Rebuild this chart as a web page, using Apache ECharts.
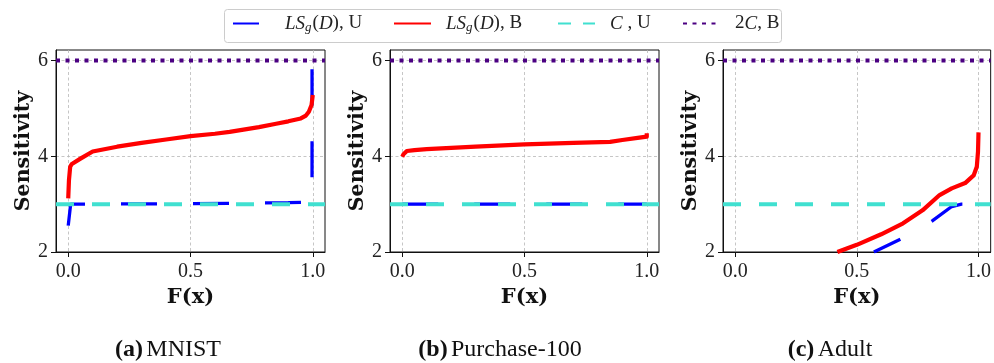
<!DOCTYPE html>
<html>
<head>
<meta charset="utf-8">
<script src="https://cdn.jsdelivr.net/npm/echarts@6/dist/echarts.min.js"></script>
<style>
  html, body { margin: 0; padding: 0; background: #fff; }
  #chart { width: 994px; height: 363px; }
</style>
</head>
<body>
<div id="chart"></div>
<script>
// Horizontal extent of every panel and the ticks shown on each axis
const xSpan = [-0.05, 1.05];
const xTicks = [0, 0.5, 1];
const yTicks = [2, 4, 6];
const yRange = [2, 6.22];

// Reference levels: C (unbounded) and 2C (bounded)
const cLevel = 3;
const twoCLevel = 6;

// Local sensitivity LS_g(D) against F(x): U = unbounded, B = bounded
const mnistU = [[0, 2.55], [0.01, 3.0], [0.02, 3.0], [0.5, 3.01], [0.9, 3.03], [0.997, 3.04], [0.997, 5.85]];
const mnistB = [[0, 3.12], [0.003, 3.5], [0.008, 3.78], [0.015, 3.84], [0.05, 3.95], [0.1, 4.1],
                [0.2, 4.2], [0.3, 4.28], [0.4, 4.35], [0.5, 4.42], [0.6, 4.47], [0.66, 4.51],
                [0.78, 4.61], [0.85, 4.68], [0.9, 4.73], [0.951, 4.79], [0.972, 4.85],
                [0.984, 4.93], [0.995, 5.07], [1.0, 5.28]];

const purchaseU = [[0, 3.0], [1.0, 3.0]];
const purchaseB = [[0, 3.99], [0.005, 4.04], [0.019, 4.11], [0.05, 4.13], [0.1, 4.15], [0.3, 4.2],
                   [0.5, 4.25], [0.7, 4.28], [0.85, 4.3], [0.9, 4.34], [0.97, 4.39], [1.0, 4.41],
                   [1.0, 4.48]];

const adultU = [[0.57, 2.0], [0.68, 2.27], [0.75, 2.45], [0.81, 2.65], [0.89, 2.95], [0.93, 3.0], [1.0, 3.0]];
const adultB = [[0.42, 2.0], [0.5, 2.15], [0.6, 2.37], [0.69, 2.6], [0.77, 2.87], [0.84, 3.19],
                [0.89, 3.33], [0.945, 3.44], [0.98, 3.6], [0.993, 3.78], [0.998, 4.1], [1.0, 4.5]];

const panels = [
  { caption: ['(a)', 'MNIST'], u: mnistU, b: mnistB, uOffset: 0 },
  { caption: ['(b)', 'Purchase-100'], u: purchaseU, b: purchaseB, uOffset: 0 },
  { caption: ['(c)', 'Adult'], u: adultU, b: adultB, uOffset: 6.6 }
];

const seriesNames = ['LS_g(D), U', 'LS_g(D), B', 'C , U', '2C, B'];
const legendLabels = [
  '{sp|}{it|LS}{sub|g}{n|(}{it|D}{n|), U}',
  '{sp|}{it|LS}{sub|g}{n|(}{it|D}{n|), B}',
  '{sp|}{it|C}{n| , U}',
  '{sp|}{n|2}{it|C}{n|, B}'
];

const COLORS = { u: '#0000ff', b: '#ff0000', c: '#40e0d0', c2: '#4b0082' };
const seriesColors = [COLORS.u, COLORS.b, COLORS.c, COLORS.c2];
const SERIF = 'Liberation Serif';
const BOLD_SERIF = 'DejaVu Serif';

// layout of the three plot boxes
const gridLeft = [56, 390, 723];
const gridTop = 50;
const gridW = 269;
const gridH = 202;
const captionX = [168, 500, 830];

const chart = echarts.init(document.getElementById('chart'), null, { renderer: 'canvas' });

const grids = [], xAxes = [], yAxes = [], series = [];
const gridLine = { show: true, lineStyle: { color: '#b8b8b8', width: 0.8, type: [3, 2.5] } };

panels.forEach((p, i) => {
  grids.push({ left: gridLeft[i], top: gridTop, width: gridW, height: gridH,
               show: true, borderColor: '#111', borderWidth: 1, backgroundColor: 'transparent' });
  xAxes.push({
    gridIndex: i, type: 'value', min: xSpan[0], max: xSpan[1],
    name: 'F(x)', nameLocation: 'middle', nameGap: 32,
    nameTextStyle: { fontFamily: BOLD_SERIF, fontWeight: 'bold', fontSize: 21, color: '#111' },
    axisLine: { show: true, onZero: false, lineStyle: { color: '#111', width: 1 } },
    axisTick: { show: true, length: 5, customValues: xTicks, lineStyle: { color: '#111' } },
    axisLabel: { customValues: xTicks, margin: 10, fontFamily: SERIF, fontSize: 20, color: '#222',
                 formatter: v => v.toFixed(1) },
    splitLine: gridLine
  });
  yAxes.push({
    gridIndex: i, type: 'value', min: yRange[0], max: yRange[1],
    name: 'Sensitivity', nameLocation: 'middle', nameGap: 22,
    nameTextStyle: { fontFamily: BOLD_SERIF, fontWeight: 'bold', fontSize: 20.5, color: '#111' },
    axisLine: { show: true, onZero: false, lineStyle: { color: '#111', width: 1 } },
    axisTick: { show: true, length: 5, customValues: yTicks, lineStyle: { color: '#111' } },
    axisLabel: { customValues: yTicks, margin: 8, fontFamily: SERIF, fontSize: 20, color: '#222' },
    splitLine: gridLine
  });
  const common = { xAxisIndex: i, yAxisIndex: i, type: 'line', symbol: 'none', silent: true,
                   clip: true, animation: false };
  series.push(Object.assign({}, common, {
    name: seriesNames[0], data: p.u, z: 2, itemStyle: { color: COLORS.u },
    lineStyle: { color: COLORS.u, width: 3.3, type: [36, 36], dashOffset: p.uOffset }
  }));
  series.push(Object.assign({}, common, {
    name: seriesNames[1], data: p.b, z: 3, itemStyle: { color: COLORS.b },
    lineStyle: { color: COLORS.b, width: 4.2, join: 'round' }
  }));
  series.push(Object.assign({}, common, {
    name: seriesNames[2], data: [[xSpan[0], cLevel], [xSpan[1], cLevel]], z: 4,
    itemStyle: { color: COLORS.c },
    lineStyle: { color: COLORS.c, width: 4, type: [18, 18] }
  }));
  series.push(Object.assign({}, common, {
    name: seriesNames[3], data: [[xSpan[0], twoCLevel], [xSpan[1], twoCLevel]], z: 5,
    itemStyle: { color: COLORS.c2 },
    lineStyle: { color: COLORS.c2, width: 4, type: [4, 5.5] }
  }));
});

// one legend entry per component so each sits at its own spot in the box
const legendLeft = [232, 393, 557, 682];
const legendDash = [[26, 12], 'solid', [13, 12], [4, 5.5]];
const legendRich = {
  sp: { width: 10 },
  it: { fontFamily: SERIF, fontStyle: 'italic', fontSize: 19, color: '#222' },
  sub: { fontFamily: SERIF, fontStyle: 'italic', fontSize: 13, color: '#222', padding: [9, 1, 0, 0] },
  n: { fontFamily: SERIF, fontSize: 19, color: '#222' }
};
const legends = seriesNames.map((name, k) => ({
  data: [name], left: legendLeft[k], top: 14, padding: 0,
  itemWidth: 37, itemHeight: 18, selectedMode: false,
  itemStyle: { opacity: 0, borderWidth: 0 },
  lineStyle: { type: legendDash[k], color: seriesColors[k], opacity: 1 },
  formatter: () => legendLabels[k],
  textStyle: { rich: legendRich }
}));

const graphics = [{
  type: 'rect', left: 224, top: 9, z: 0,
  shape: { width: 557, height: 33, r: 3 },
  style: { fill: '#fff', stroke: '#cccccc', lineWidth: 1 }
}];
panels.forEach((p, i) => {
  graphics.push({
    type: 'text', x: captionX[i], y: 350, z: 10,
    style: {
      text: '{b|' + p.caption[0] + '} {r|' + p.caption[1] + '}',
      align: 'center', verticalAlign: 'middle',
      rich: {
        b: { fontFamily: SERIF, fontWeight: 'bold', fontSize: 24, fill: '#111' },
        r: { fontFamily: SERIF, fontSize: 24, fill: '#111' }
      }
    }
  });
});

chart.setOption({
  animation: false,
  backgroundColor: '#fff',
  grid: grids,
  xAxis: xAxes,
  yAxis: yAxes,
  legend: legends,
  graphic: graphics,
  series: series
});
</script>
</body>
</html>
